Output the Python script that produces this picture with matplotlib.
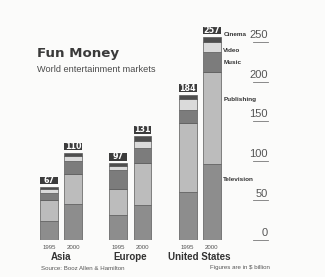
import matplotlib.pyplot as plt
import numpy as np

# $ billion, stacked bottom to top
regions = ["Asia", "Europe", "United States"]
years = ["1995", "2000"]
segments = ["Television", "Publishing", "Music", "Video", "Cinema"]
television = [24, 46, 31, 44, 61, 96]
publishing = [27, 38, 33, 54, 87, 116]
music = [9, 16, 24, 19, 16, 26]
video = [4, 6, 5, 8, 14, 12]
cinema = [3, 4, 4, 6, 6, 7]
totals = [67, 110, 97, 131, 184, 257]
axis_ticks = [0, 50, 100, 150, 200, 250]

seg_colors = ["#8d8d8d", "#bcbcbc", "#7c7c7c", "#dadada", "#4e4e4e"]
box_color = "#3c3c3c"
narrow = ["Liberation Sans", "DejaVu Sans"]

fig = plt.figure(figsize=(3.25, 2.77), dpi=100)
fig.patch.set_facecolor("#fbfbfa")
ax = fig.add_axes([20 / 325, 37 / 277, 270 / 325, 230 / 277])
ax.set_xlim(-0.60, 3.31)
ax.set_ylim(0, 291)
ax.axis("off")

w = 0.26
xs = []
for g in range(len(regions)):
    for k in range(2):
        xs.append(g + (-0.174 if k == 0 else 0.174))
xs = np.array(xs)

bottom = np.zeros(len(xs))
for vals, col in zip([television, publishing, music, video, cinema], seg_colors):
    ax.bar(xs, vals, w, bottom=bottom, color=col, edgecolor="#5a5a5a",
           linewidth=0.5)
    bottom += np.array(vals)

# value tags above the bars
for x, t in zip(xs, totals):
    ax.bar(x, 9.5, w, bottom=t + 3.5, color=box_color, linewidth=0)
    ax.text(x, t + 8.2, str(t), ha="center", va="center", color="white",
            fontsize=5.8, fontweight="bold", family="DejaVu Sans")

# year labels and region names
for i, x in enumerate(xs):
    ax.text(x, -6, years[i % 2], ha="center", va="top", fontsize=4.4,
            color="#555555", family=narrow, clip_on=False)
for g, name in enumerate(regions):
    ax.text(g, -15, name, ha="center", va="top", fontsize=7.0,
            fontweight="bold", color="#333333", family=narrow, clip_on=False)

# segment names next to the last bar
last = len(xs) - 1
stack = np.cumsum([0, television[last], publishing[last], music[last], video[last]])
label_y = [stack[0] + 0.8 * television[last],
           stack[1] + 0.7 * publishing[last],
           stack[2] + 0.5 * music[last],
           stack[3] + 0.1 * video[last],
           totals[last] + 3]
for name, y in zip(segments, label_y):
    ax.text(xs[last] + w / 2 + 0.04, y, name, ha="left", va="center",
            fontsize=4.6, fontweight="bold", color="#333333", family=narrow)

# value scale on the right
for v in axis_ticks:
    ax.plot([2.77, 2.99], [v, v], color="#777777", lw=0.6, clip_on=False)
    ax.text(2.985, v + 2.5, str(v), ha="right", va="bottom", fontsize=8.0,
            color="#555555", family=narrow, clip_on=False)

fig.text(37 / 325, 1 - 54 / 277, "Fun Money", fontsize=9.6, fontweight="heavy",
         color="#3a3a3a", va="center", ha="left")
fig.text(37 / 325, 1 - 70 / 277, "World entertainment markets", fontsize=6.6,
         color="#4a4a4a", va="center", ha="left", family=narrow)
fig.text(41 / 325, 1 - 269 / 277, "Source: Booz Allen & Hamilton", fontsize=4.4,
         color="#555555", va="center", ha="left", family=narrow)
fig.text(270 / 325, 1 - 268 / 277, "Figures are in $ billion", fontsize=4.4,
         color="#555555", va="center", ha="right", family=narrow)

fig.savefig("out.png", dpi=100, facecolor=fig.get_facecolor())
